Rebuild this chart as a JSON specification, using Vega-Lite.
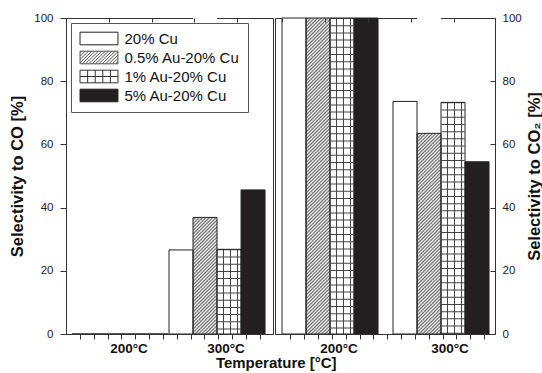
{
  "$schema": "https://vega.github.io/schema/vega-lite/v6.json",
  "background": "white",
  "padding": {"left": 9, "top": 6, "right": 0, "bottom": 0},
  "autosize": {"type": "pad"},
  "title": {"text": "Temperature [°C]", "orient": "bottom", "anchor": "middle", "fontSize": 15, "fontWeight": "bold", "color": "#111", "font": "Liberation Sans", "offset": 1},
  "datasets": {
    "d": [
      {"panel": "CO", "temp": "200°C", "catalyst": "20% Cu", "value": 0},
      {"panel": "CO", "temp": "200°C", "catalyst": "0.5% Au-20% Cu", "value": 0},
      {"panel": "CO", "temp": "200°C", "catalyst": "1% Au-20% Cu", "value": 0},
      {"panel": "CO", "temp": "200°C", "catalyst": "5% Au-20% Cu", "value": 0},
      {"panel": "CO", "temp": "300°C", "catalyst": "20% Cu", "value": 26.6},
      {"panel": "CO", "temp": "300°C", "catalyst": "0.5% Au-20% Cu", "value": 36.9},
      {"panel": "CO", "temp": "300°C", "catalyst": "1% Au-20% Cu", "value": 26.8},
      {"panel": "CO", "temp": "300°C", "catalyst": "5% Au-20% Cu", "value": 45.6},
      {"panel": "CO2", "temp": "200°C", "catalyst": "20% Cu", "value": 100},
      {"panel": "CO2", "temp": "200°C", "catalyst": "0.5% Au-20% Cu", "value": 100},
      {"panel": "CO2", "temp": "200°C", "catalyst": "1% Au-20% Cu", "value": 100},
      {"panel": "CO2", "temp": "200°C", "catalyst": "5% Au-20% Cu", "value": 100},
      {"panel": "CO2", "temp": "300°C", "catalyst": "20% Cu", "value": 73.6},
      {"panel": "CO2", "temp": "300°C", "catalyst": "0.5% Au-20% Cu", "value": 63.5},
      {"panel": "CO2", "temp": "300°C", "catalyst": "1% Au-20% Cu", "value": 73.3},
      {"panel": "CO2", "temp": "300°C", "catalyst": "5% Au-20% Cu", "value": 54.5}
    ]
  },
  "spacing": 0,
  "hconcat": [
    {
      "width": 207,
      "height": 316,
      "data": {"name": "d"},
      "transform": [{"filter": "datum.panel === 'CO'"}],
      "layer": [
        {
          "mark": {"type": "bar"},
          "encoding": {
            "x": {"field": "temp", "type": "nominal", "scale": {"domain": ["200°C", "300°C"], "paddingInner": 0.0103, "paddingOuter": 0.072, "align": 0.43},
              "axis": {"orient": "bottom", "title": null, "labelAngle": 0, "labelFontSize": 13.5, "labelFontWeight": "bold", "labelColor": "#111", "labelOffset": 9, "labelPadding": 7, "ticks": false, "tickSize": 0, "domain": true, "domainColor": "#333", "zindex": 1}},
            "xOffset": {"field": "catalyst", "type": "nominal", "scale": {"domain": ["20% Cu", "0.5% Au-20% Cu", "1% Au-20% Cu", "5% Au-20% Cu"], "paddingInner": 0, "paddingOuter": 0}},
            "y": {"field": "value", "type": "quantitative", "scale": {"domain": [0, 100], "nice": false},
              "axis": {"orient": "left", "values": [0, 10, 20, 30, 40, 50, 60, 70, 80, 90, 100], "labelExpr": "datum.value % 20 === 0 ? datum.label : ''", "tickSize": 6, "tickColor": "#333", "domainColor": "#333", "labelFontSize": 11.5, "labelColor": "#222", "labelPadding": 7, "title": "Selectivity to CO [%]", "titleFontSize": 16.5, "titleFontWeight": "bold", "titleColor": "#111", "titlePadding": 8, "grid": false, "zindex": 1}},
            "fill": {"condition": {"test": "datum.catalyst === '5% Au-20% Cu'", "value": "#231f20"}, "value": "white"}
          }
        },
        {
          "transform": [{"filter": "datum.catalyst === '0.5% Au-20% Cu' && datum.value > 0"}],
          "mark": {"type": "bar", "fill": {"gradient": "linear", "x1": 0, "y1": 0, "x2": 0.0813, "y2": 1.0698, "stops": [
            {"offset": 0, "color": "#fff"}, {"offset": 0.005, "color": "#666"}, {"offset": 0.01, "color": "#fff"}, {"offset": 0.015, "color": "#666"}, {"offset": 0.02, "color": "#fff"}, {"offset": 0.025, "color": "#666"}, {"offset": 0.03, "color": "#fff"}, {"offset": 0.035, "color": "#666"}, {"offset": 0.04, "color": "#fff"}, {"offset": 0.045, "color": "#666"},
            {"offset": 0.05, "color": "#fff"}, {"offset": 0.055, "color": "#666"}, {"offset": 0.06, "color": "#fff"}, {"offset": 0.065, "color": "#666"}, {"offset": 0.07, "color": "#fff"}, {"offset": 0.075, "color": "#666"}, {"offset": 0.08, "color": "#fff"}, {"offset": 0.085, "color": "#666"}, {"offset": 0.09, "color": "#fff"}, {"offset": 0.095, "color": "#666"},
            {"offset": 0.1, "color": "#fff"}, {"offset": 0.105, "color": "#666"}, {"offset": 0.11, "color": "#fff"}, {"offset": 0.115, "color": "#666"}, {"offset": 0.12, "color": "#fff"}, {"offset": 0.125, "color": "#666"}, {"offset": 0.13, "color": "#fff"}, {"offset": 0.135, "color": "#666"}, {"offset": 0.14, "color": "#fff"}, {"offset": 0.145, "color": "#666"},
            {"offset": 0.15, "color": "#fff"}, {"offset": 0.155, "color": "#666"}, {"offset": 0.16, "color": "#fff"}, {"offset": 0.165, "color": "#666"}, {"offset": 0.17, "color": "#fff"}, {"offset": 0.175, "color": "#666"}, {"offset": 0.18, "color": "#fff"}, {"offset": 0.185, "color": "#666"}, {"offset": 0.19, "color": "#fff"}, {"offset": 0.195, "color": "#666"},
            {"offset": 0.2, "color": "#fff"}, {"offset": 0.205, "color": "#666"}, {"offset": 0.21, "color": "#fff"}, {"offset": 0.215, "color": "#666"}, {"offset": 0.22, "color": "#fff"}, {"offset": 0.225, "color": "#666"}, {"offset": 0.23, "color": "#fff"}, {"offset": 0.235, "color": "#666"}, {"offset": 0.24, "color": "#fff"}, {"offset": 0.245, "color": "#666"},
            {"offset": 0.25, "color": "#fff"}, {"offset": 0.255, "color": "#666"}, {"offset": 0.26, "color": "#fff"}, {"offset": 0.265, "color": "#666"}, {"offset": 0.27, "color": "#fff"}, {"offset": 0.275, "color": "#666"}, {"offset": 0.28, "color": "#fff"}, {"offset": 0.285, "color": "#666"}, {"offset": 0.29, "color": "#fff"}, {"offset": 0.295, "color": "#666"},
            {"offset": 0.3, "color": "#fff"}, {"offset": 0.305, "color": "#666"}, {"offset": 0.31, "color": "#fff"}, {"offset": 0.315, "color": "#666"}, {"offset": 0.32, "color": "#fff"}, {"offset": 0.325, "color": "#666"}, {"offset": 0.33, "color": "#fff"}, {"offset": 0.335, "color": "#666"}, {"offset": 0.34, "color": "#fff"}, {"offset": 0.345, "color": "#666"},
            {"offset": 0.35, "color": "#fff"}, {"offset": 0.355, "color": "#666"}, {"offset": 0.36, "color": "#fff"}, {"offset": 0.365, "color": "#666"}, {"offset": 0.37, "color": "#fff"}, {"offset": 0.375, "color": "#666"}, {"offset": 0.38, "color": "#fff"}, {"offset": 0.385, "color": "#666"}, {"offset": 0.39, "color": "#fff"}, {"offset": 0.395, "color": "#666"},
            {"offset": 0.4, "color": "#fff"}, {"offset": 0.405, "color": "#666"}, {"offset": 0.41, "color": "#fff"}, {"offset": 0.415, "color": "#666"}, {"offset": 0.42, "color": "#fff"}, {"offset": 0.425, "color": "#666"}, {"offset": 0.43, "color": "#fff"}, {"offset": 0.435, "color": "#666"}, {"offset": 0.44, "color": "#fff"}, {"offset": 0.445, "color": "#666"},
            {"offset": 0.45, "color": "#fff"}, {"offset": 0.455, "color": "#666"}, {"offset": 0.46, "color": "#fff"}, {"offset": 0.465, "color": "#666"}, {"offset": 0.47, "color": "#fff"}, {"offset": 0.475, "color": "#666"}, {"offset": 0.48, "color": "#fff"}, {"offset": 0.485, "color": "#666"}, {"offset": 0.49, "color": "#fff"}, {"offset": 0.495, "color": "#666"},
            {"offset": 0.5, "color": "#fff"}, {"offset": 0.505, "color": "#666"}, {"offset": 0.51, "color": "#fff"}, {"offset": 0.515, "color": "#666"}, {"offset": 0.52, "color": "#fff"}, {"offset": 0.525, "color": "#666"}, {"offset": 0.53, "color": "#fff"}, {"offset": 0.535, "color": "#666"}, {"offset": 0.54, "color": "#fff"}, {"offset": 0.545, "color": "#666"},
            {"offset": 0.55, "color": "#fff"}, {"offset": 0.555, "color": "#666"}, {"offset": 0.56, "color": "#fff"}, {"offset": 0.565, "color": "#666"}, {"offset": 0.57, "color": "#fff"}, {"offset": 0.575, "color": "#666"}, {"offset": 0.58, "color": "#fff"}, {"offset": 0.585, "color": "#666"}, {"offset": 0.59, "color": "#fff"}, {"offset": 0.595, "color": "#666"},
            {"offset": 0.6, "color": "#fff"}, {"offset": 0.605, "color": "#666"}, {"offset": 0.61, "color": "#fff"}, {"offset": 0.615, "color": "#666"}, {"offset": 0.62, "color": "#fff"}, {"offset": 0.625, "color": "#666"}, {"offset": 0.63, "color": "#fff"}, {"offset": 0.635, "color": "#666"}, {"offset": 0.64, "color": "#fff"}, {"offset": 0.645, "color": "#666"},
            {"offset": 0.65, "color": "#fff"}, {"offset": 0.655, "color": "#666"}, {"offset": 0.66, "color": "#fff"}, {"offset": 0.665, "color": "#666"}, {"offset": 0.67, "color": "#fff"}, {"offset": 0.675, "color": "#666"}, {"offset": 0.68, "color": "#fff"}, {"offset": 0.685, "color": "#666"}, {"offset": 0.69, "color": "#fff"}, {"offset": 0.695, "color": "#666"},
            {"offset": 0.7, "color": "#fff"}, {"offset": 0.705, "color": "#666"}, {"offset": 0.71, "color": "#fff"}, {"offset": 0.715, "color": "#666"}, {"offset": 0.72, "color": "#fff"}, {"offset": 0.725, "color": "#666"}, {"offset": 0.73, "color": "#fff"}, {"offset": 0.735, "color": "#666"}, {"offset": 0.74, "color": "#fff"}, {"offset": 0.745, "color": "#666"},
            {"offset": 0.75, "color": "#fff"}, {"offset": 0.755, "color": "#666"}, {"offset": 0.76, "color": "#fff"}, {"offset": 0.765, "color": "#666"}, {"offset": 0.77, "color": "#fff"}, {"offset": 0.775, "color": "#666"}, {"offset": 0.78, "color": "#fff"}, {"offset": 0.785, "color": "#666"}, {"offset": 0.79, "color": "#fff"}, {"offset": 0.795, "color": "#666"},
            {"offset": 0.8, "color": "#fff"}, {"offset": 0.805, "color": "#666"}, {"offset": 0.81, "color": "#fff"}, {"offset": 0.815, "color": "#666"}, {"offset": 0.82, "color": "#fff"}, {"offset": 0.825, "color": "#666"}, {"offset": 0.83, "color": "#fff"}, {"offset": 0.835, "color": "#666"}, {"offset": 0.84, "color": "#fff"}, {"offset": 0.845, "color": "#666"},
            {"offset": 0.85, "color": "#fff"}, {"offset": 0.855, "color": "#666"}, {"offset": 0.86, "color": "#fff"}, {"offset": 0.865, "color": "#666"}, {"offset": 0.87, "color": "#fff"}, {"offset": 0.875, "color": "#666"}, {"offset": 0.88, "color": "#fff"}, {"offset": 0.885, "color": "#666"}, {"offset": 0.89, "color": "#fff"}, {"offset": 0.895, "color": "#666"},
            {"offset": 0.9, "color": "#fff"}, {"offset": 0.905, "color": "#666"}, {"offset": 0.91, "color": "#fff"}, {"offset": 0.915, "color": "#666"}, {"offset": 0.92, "color": "#fff"}, {"offset": 0.925, "color": "#666"}, {"offset": 0.93, "color": "#fff"}, {"offset": 0.935, "color": "#666"}, {"offset": 0.94, "color": "#fff"}, {"offset": 0.945, "color": "#666"},
            {"offset": 0.95, "color": "#fff"}, {"offset": 0.955, "color": "#666"}, {"offset": 0.96, "color": "#fff"}, {"offset": 0.965, "color": "#666"}, {"offset": 0.97, "color": "#fff"}, {"offset": 0.975, "color": "#666"}, {"offset": 0.98, "color": "#fff"}, {"offset": 0.985, "color": "#666"}, {"offset": 0.99, "color": "#fff"}, {"offset": 0.995, "color": "#666"},
            {"offset": 1, "color": "#fff"}
          ]}},
          "encoding": {
            "x": {"field": "temp", "type": "nominal", "scale": {"domain": ["200°C", "300°C"], "paddingInner": 0.0103, "paddingOuter": 0.072, "align": 0.43}, "axis": null},
            "xOffset": {"field": "catalyst", "type": "nominal", "scale": {"domain": ["20% Cu", "0.5% Au-20% Cu", "1% Au-20% Cu", "5% Au-20% Cu"], "paddingInner": 0, "paddingOuter": 0}},
            "y": {"datum": 100, "type": "quantitative"},
            "y2": {"datum": 0}
          }
        },
        {
          "transform": [{"filter": "datum.catalyst === '0.5% Au-20% Cu' && datum.value > 0"}],
          "mark": {"type": "bar", "fill": "white"},
          "encoding": {
            "x": {"field": "temp", "type": "nominal", "scale": {"domain": ["200°C", "300°C"], "paddingInner": 0.0103, "paddingOuter": 0.072, "align": 0.43}, "axis": null},
            "xOffset": {"field": "catalyst", "type": "nominal", "scale": {"domain": ["20% Cu", "0.5% Au-20% Cu", "1% Au-20% Cu", "5% Au-20% Cu"], "paddingInner": 0, "paddingOuter": 0}},
            "y": {"field": "value", "type": "quantitative"},
            "y2": {"datum": 100}
          }
        },
        {
          "transform": [{"filter": "datum.catalyst === '1% Au-20% Cu' && datum.value > 0"}],
          "mark": {"type": "bar", "fill": {"gradient": "linear", "x1": 0, "y1": 0, "x2": 1, "y2": 0, "stops": [
            {"offset": 0, "color": "#fff"}, {"offset": 0.255, "color": "#fff"}, {"offset": 0.255, "color": "#444"}, {"offset": 0.295, "color": "#444"}, {"offset": 0.295, "color": "#fff"},
            {"offset": 0.545, "color": "#fff"}, {"offset": 0.545, "color": "#444"}, {"offset": 0.585, "color": "#444"}, {"offset": 0.585, "color": "#fff"},
            {"offset": 0.835, "color": "#fff"}, {"offset": 0.835, "color": "#444"}, {"offset": 0.875, "color": "#444"}, {"offset": 0.875, "color": "#fff"}, {"offset": 1, "color": "#fff"}
          ]}},
          "encoding": {
            "x": {"field": "temp", "type": "nominal", "scale": {"domain": ["200°C", "300°C"], "paddingInner": 0.0103, "paddingOuter": 0.072, "align": 0.43}, "axis": null},
            "xOffset": {"field": "catalyst", "type": "nominal", "scale": {"domain": ["20% Cu", "0.5% Au-20% Cu", "1% Au-20% Cu", "5% Au-20% Cu"], "paddingInner": 0, "paddingOuter": 0}},
            "y": {"field": "value", "type": "quantitative"}
          }
        },
        {
          "transform": [{"filter": "datum.catalyst === '1% Au-20% Cu' && datum.value > 0"}],
          "mark": {"type": "rule", "stroke": "#444", "strokeWidth": 23, "strokeDash": [1, 6.2]},
          "encoding": {
            "x": {"field": "temp", "type": "nominal", "scale": {"domain": ["200°C", "300°C"], "paddingInner": 0.0103, "paddingOuter": 0.072, "align": 0.43}, "axis": null},
            "xOffset": {"field": "catalyst", "type": "nominal", "scale": {"domain": ["20% Cu", "0.5% Au-20% Cu", "1% Au-20% Cu", "5% Au-20% Cu"], "paddingInner": 0, "paddingOuter": 0}},
            "y": {"field": "value", "type": "quantitative"},
            "y2": {"datum": 0}
          }
        },
        {
          "mark": {"type": "bar", "fill": "transparent", "stroke": "#222", "strokeWidth": 1},
          "encoding": {
            "x": {"field": "temp", "type": "nominal", "scale": {"domain": ["200°C", "300°C"], "paddingInner": 0.0103, "paddingOuter": 0.072, "align": 0.43}, "axis": null},
            "xOffset": {"field": "catalyst", "type": "nominal", "scale": {"domain": ["20% Cu", "0.5% Au-20% Cu", "1% Au-20% Cu", "5% Au-20% Cu"], "paddingInner": 0, "paddingOuter": 0}},
            "y": {"field": "value", "type": "quantitative"}
          }
        },
        {
          "mark": {"type": "point", "filled": true, "opacity": 0, "size": 169, "strokeWidth": 1},
          "encoding": {
            "x": {"field": "temp", "type": "nominal", "scale": {"domain": ["200°C", "300°C"], "paddingInner": 0.0103, "paddingOuter": 0.072, "align": 0.43}, "axis": null},
            "y": {"datum": 50, "type": "quantitative"},
            "fill": {"field": "catalyst", "type": "nominal",
              "scale": {"domain": ["20% Cu", "0.5% Au-20% Cu", "1% Au-20% Cu", "5% Au-20% Cu"], "range": ["white", "white", "white", "#231f20"]},
              "legend": {"orient": "top-left", "offset": 5, "title": null, "padding": 8, "strokeColor": "#555", "fillColor": "white", "labelFontSize": 15, "labelColor": "#111", "labelFont": "Liberation Sans", "labelOffset": 18, "symbolOffset": 12.5, "rowPadding": 2, "symbolSize": 169, "symbolStrokeWidth": 1, "symbolOpacity": 1, "zindex": 1}},
            "stroke": {"field": "catalyst", "type": "nominal",
              "scale": {"domain": ["20% Cu", "0.5% Au-20% Cu", "1% Au-20% Cu", "5% Au-20% Cu"], "range": ["#222", "#555", "#333", "#222"]},
              "legend": {"orient": "top-left", "offset": 5, "title": null, "padding": 8, "strokeColor": "#555", "fillColor": "white", "labelFontSize": 15, "labelColor": "#111", "labelFont": "Liberation Sans", "labelOffset": 18, "symbolOffset": 12.5, "rowPadding": 2, "symbolSize": 169, "symbolStrokeWidth": 1, "symbolOpacity": 1, "zindex": 1}},
            "shape": {"field": "catalyst", "type": "nominal",
              "scale": {"domain": ["20% Cu", "0.5% Au-20% Cu", "1% Au-20% Cu", "5% Au-20% Cu"], "range": [
                "M-2.92,-0.97H2.92V0.97H-2.92Z",
                "M-2.92,-0.97H2.92V0.97H-2.92Z M-2.92,-0.71L-2.66,-0.97 M-2.92,-0.2L-2.14,-0.97 M-2.92,0.31L-1.62,-0.97 M-2.92,0.83L-1.11,-0.97 M-2.6,0.97L-0.6,-0.97 M-2.08,0.97L-0.08,-0.97 M-1.57,0.97L0.43,-0.97 M-1.05,0.97L0.95,-0.97 M-0.54,0.97L1.46,-0.97 M-0.03,0.97L1.97,-0.97 M0.49,0.97L2.49,-0.97 M1,0.97L2.92,-0.89 M1.52,0.97L2.92,-0.38 M2.03,0.97L2.92,0.13 M2.55,0.97L2.92,0.63",
                "M-2.92,-0.97H2.92V0.97H-2.92Z M-1.75,-0.97V0.97 M-0.58,-0.97V0.97 M0.58,-0.97V0.97 M1.75,-0.97V0.97 M-2.92,0H2.92",
                "M-2.92,-0.97H2.92V0.97H-2.92Z"
              ]},
              "legend": {"orient": "top-left", "offset": 5, "title": null, "padding": 8, "strokeColor": "#555", "fillColor": "white", "labelFontSize": 15, "labelColor": "#111", "labelFont": "Liberation Sans", "labelOffset": 18, "symbolOffset": 12.5, "rowPadding": 2, "symbolSize": 169, "symbolStrokeWidth": 1, "symbolOpacity": 1, "zindex": 1}}
          }
        },
        {
          "mark": {"type": "rule", "opacity": 0},
          "encoding": {
            "x": {"datum": 0, "type": "quantitative", "scale": {"domain": [0, 207], "nice": false, "zero": false},
              "axis": {"orient": "top", "offset": -4, "values": [43, 86, 128, 171], "labels": false, "title": null, "grid": false, "domain": false, "ticks": true, "tickColor": "#333", "tickSize": 4, "zindex": 1}}
          }
        },
        {
          "mark": {"type": "rule", "opacity": 0},
          "encoding": {
            "x": {"datum": 0, "type": "quantitative", "scale": {"domain": [0, 207], "nice": false, "zero": false},
              "axis": {"orient": "bottom", "values": [14, 28, 42, 55, 69, 83, 97, 111, 125, 138, 152, 166, 180, 194], "labels": false, "title": null, "grid": false, "domain": false, "ticks": true, "tickColor": "#333", "tickSize": 5, "zindex": 1}}
          }
        }
      ],
      "resolve": {"scale": {"x": "independent"}, "axis": {"x": "independent"}}
    },
    {
      "width": 220,
      "height": 316,
      "data": {"name": "d"},
      "transform": [{"filter": "datum.panel === 'CO2'"}],
      "layer": [
        {
          "mark": {"type": "bar"},
          "encoding": {
            "x": {"field": "temp", "type": "nominal", "scale": {"domain": ["200°C", "300°C"], "paddingInner": 0.135, "paddingOuter": 0.0585, "align": 0.54},
              "axis": {"orient": "bottom", "title": null, "labelAngle": 0, "labelFontSize": 13.5, "labelFontWeight": "bold", "labelColor": "#111", "labelOffset": 9, "labelPadding": 7, "ticks": false, "tickSize": 0, "domain": true, "domainColor": "#333", "zindex": 1}},
            "xOffset": {"field": "catalyst", "type": "nominal", "scale": {"domain": ["20% Cu", "0.5% Au-20% Cu", "1% Au-20% Cu", "5% Au-20% Cu"], "paddingInner": 0, "paddingOuter": 0}},
            "y": {"field": "value", "type": "quantitative", "scale": {"domain": [0, 100], "nice": false},
              "axis": {"orient": "right", "offset": -5, "values": [0, 10, 20, 30, 40, 50, 60, 70, 80, 90, 100], "labelExpr": "datum.value % 20 === 0 ? datum.label : ''", "tickSize": 5, "tickColor": "#333", "domain": false, "labelFontSize": 11.5, "labelColor": "#222", "labelPadding": 7, "title": "Selectivity to CO₂ [%]", "titleAngle": 270, "titleFontSize": 16.5, "titleFontWeight": "bold", "titleColor": "#111", "titlePadding": 21, "grid": false, "zindex": 1}},
            "fill": {"condition": {"test": "datum.catalyst === '5% Au-20% Cu'", "value": "#231f20"}, "value": "white"}
          }
        },
        {
          "transform": [{"filter": "datum.catalyst === '0.5% Au-20% Cu' && datum.value > 0"}],
          "mark": {"type": "bar", "fill": {"gradient": "linear", "x1": 0, "y1": 0, "x2": 0.0813, "y2": 1.0698, "stops": [
            {"offset": 0, "color": "#fff"}, {"offset": 0.005, "color": "#666"}, {"offset": 0.01, "color": "#fff"}, {"offset": 0.015, "color": "#666"}, {"offset": 0.02, "color": "#fff"}, {"offset": 0.025, "color": "#666"}, {"offset": 0.03, "color": "#fff"}, {"offset": 0.035, "color": "#666"}, {"offset": 0.04, "color": "#fff"}, {"offset": 0.045, "color": "#666"},
            {"offset": 0.05, "color": "#fff"}, {"offset": 0.055, "color": "#666"}, {"offset": 0.06, "color": "#fff"}, {"offset": 0.065, "color": "#666"}, {"offset": 0.07, "color": "#fff"}, {"offset": 0.075, "color": "#666"}, {"offset": 0.08, "color": "#fff"}, {"offset": 0.085, "color": "#666"}, {"offset": 0.09, "color": "#fff"}, {"offset": 0.095, "color": "#666"},
            {"offset": 0.1, "color": "#fff"}, {"offset": 0.105, "color": "#666"}, {"offset": 0.11, "color": "#fff"}, {"offset": 0.115, "color": "#666"}, {"offset": 0.12, "color": "#fff"}, {"offset": 0.125, "color": "#666"}, {"offset": 0.13, "color": "#fff"}, {"offset": 0.135, "color": "#666"}, {"offset": 0.14, "color": "#fff"}, {"offset": 0.145, "color": "#666"},
            {"offset": 0.15, "color": "#fff"}, {"offset": 0.155, "color": "#666"}, {"offset": 0.16, "color": "#fff"}, {"offset": 0.165, "color": "#666"}, {"offset": 0.17, "color": "#fff"}, {"offset": 0.175, "color": "#666"}, {"offset": 0.18, "color": "#fff"}, {"offset": 0.185, "color": "#666"}, {"offset": 0.19, "color": "#fff"}, {"offset": 0.195, "color": "#666"},
            {"offset": 0.2, "color": "#fff"}, {"offset": 0.205, "color": "#666"}, {"offset": 0.21, "color": "#fff"}, {"offset": 0.215, "color": "#666"}, {"offset": 0.22, "color": "#fff"}, {"offset": 0.225, "color": "#666"}, {"offset": 0.23, "color": "#fff"}, {"offset": 0.235, "color": "#666"}, {"offset": 0.24, "color": "#fff"}, {"offset": 0.245, "color": "#666"},
            {"offset": 0.25, "color": "#fff"}, {"offset": 0.255, "color": "#666"}, {"offset": 0.26, "color": "#fff"}, {"offset": 0.265, "color": "#666"}, {"offset": 0.27, "color": "#fff"}, {"offset": 0.275, "color": "#666"}, {"offset": 0.28, "color": "#fff"}, {"offset": 0.285, "color": "#666"}, {"offset": 0.29, "color": "#fff"}, {"offset": 0.295, "color": "#666"},
            {"offset": 0.3, "color": "#fff"}, {"offset": 0.305, "color": "#666"}, {"offset": 0.31, "color": "#fff"}, {"offset": 0.315, "color": "#666"}, {"offset": 0.32, "color": "#fff"}, {"offset": 0.325, "color": "#666"}, {"offset": 0.33, "color": "#fff"}, {"offset": 0.335, "color": "#666"}, {"offset": 0.34, "color": "#fff"}, {"offset": 0.345, "color": "#666"},
            {"offset": 0.35, "color": "#fff"}, {"offset": 0.355, "color": "#666"}, {"offset": 0.36, "color": "#fff"}, {"offset": 0.365, "color": "#666"}, {"offset": 0.37, "color": "#fff"}, {"offset": 0.375, "color": "#666"}, {"offset": 0.38, "color": "#fff"}, {"offset": 0.385, "color": "#666"}, {"offset": 0.39, "color": "#fff"}, {"offset": 0.395, "color": "#666"},
            {"offset": 0.4, "color": "#fff"}, {"offset": 0.405, "color": "#666"}, {"offset": 0.41, "color": "#fff"}, {"offset": 0.415, "color": "#666"}, {"offset": 0.42, "color": "#fff"}, {"offset": 0.425, "color": "#666"}, {"offset": 0.43, "color": "#fff"}, {"offset": 0.435, "color": "#666"}, {"offset": 0.44, "color": "#fff"}, {"offset": 0.445, "color": "#666"},
            {"offset": 0.45, "color": "#fff"}, {"offset": 0.455, "color": "#666"}, {"offset": 0.46, "color": "#fff"}, {"offset": 0.465, "color": "#666"}, {"offset": 0.47, "color": "#fff"}, {"offset": 0.475, "color": "#666"}, {"offset": 0.48, "color": "#fff"}, {"offset": 0.485, "color": "#666"}, {"offset": 0.49, "color": "#fff"}, {"offset": 0.495, "color": "#666"},
            {"offset": 0.5, "color": "#fff"}, {"offset": 0.505, "color": "#666"}, {"offset": 0.51, "color": "#fff"}, {"offset": 0.515, "color": "#666"}, {"offset": 0.52, "color": "#fff"}, {"offset": 0.525, "color": "#666"}, {"offset": 0.53, "color": "#fff"}, {"offset": 0.535, "color": "#666"}, {"offset": 0.54, "color": "#fff"}, {"offset": 0.545, "color": "#666"},
            {"offset": 0.55, "color": "#fff"}, {"offset": 0.555, "color": "#666"}, {"offset": 0.56, "color": "#fff"}, {"offset": 0.565, "color": "#666"}, {"offset": 0.57, "color": "#fff"}, {"offset": 0.575, "color": "#666"}, {"offset": 0.58, "color": "#fff"}, {"offset": 0.585, "color": "#666"}, {"offset": 0.59, "color": "#fff"}, {"offset": 0.595, "color": "#666"},
            {"offset": 0.6, "color": "#fff"}, {"offset": 0.605, "color": "#666"}, {"offset": 0.61, "color": "#fff"}, {"offset": 0.615, "color": "#666"}, {"offset": 0.62, "color": "#fff"}, {"offset": 0.625, "color": "#666"}, {"offset": 0.63, "color": "#fff"}, {"offset": 0.635, "color": "#666"}, {"offset": 0.64, "color": "#fff"}, {"offset": 0.645, "color": "#666"},
            {"offset": 0.65, "color": "#fff"}, {"offset": 0.655, "color": "#666"}, {"offset": 0.66, "color": "#fff"}, {"offset": 0.665, "color": "#666"}, {"offset": 0.67, "color": "#fff"}, {"offset": 0.675, "color": "#666"}, {"offset": 0.68, "color": "#fff"}, {"offset": 0.685, "color": "#666"}, {"offset": 0.69, "color": "#fff"}, {"offset": 0.695, "color": "#666"},
            {"offset": 0.7, "color": "#fff"}, {"offset": 0.705, "color": "#666"}, {"offset": 0.71, "color": "#fff"}, {"offset": 0.715, "color": "#666"}, {"offset": 0.72, "color": "#fff"}, {"offset": 0.725, "color": "#666"}, {"offset": 0.73, "color": "#fff"}, {"offset": 0.735, "color": "#666"}, {"offset": 0.74, "color": "#fff"}, {"offset": 0.745, "color": "#666"},
            {"offset": 0.75, "color": "#fff"}, {"offset": 0.755, "color": "#666"}, {"offset": 0.76, "color": "#fff"}, {"offset": 0.765, "color": "#666"}, {"offset": 0.77, "color": "#fff"}, {"offset": 0.775, "color": "#666"}, {"offset": 0.78, "color": "#fff"}, {"offset": 0.785, "color": "#666"}, {"offset": 0.79, "color": "#fff"}, {"offset": 0.795, "color": "#666"},
            {"offset": 0.8, "color": "#fff"}, {"offset": 0.805, "color": "#666"}, {"offset": 0.81, "color": "#fff"}, {"offset": 0.815, "color": "#666"}, {"offset": 0.82, "color": "#fff"}, {"offset": 0.825, "color": "#666"}, {"offset": 0.83, "color": "#fff"}, {"offset": 0.835, "color": "#666"}, {"offset": 0.84, "color": "#fff"}, {"offset": 0.845, "color": "#666"},
            {"offset": 0.85, "color": "#fff"}, {"offset": 0.855, "color": "#666"}, {"offset": 0.86, "color": "#fff"}, {"offset": 0.865, "color": "#666"}, {"offset": 0.87, "color": "#fff"}, {"offset": 0.875, "color": "#666"}, {"offset": 0.88, "color": "#fff"}, {"offset": 0.885, "color": "#666"}, {"offset": 0.89, "color": "#fff"}, {"offset": 0.895, "color": "#666"},
            {"offset": 0.9, "color": "#fff"}, {"offset": 0.905, "color": "#666"}, {"offset": 0.91, "color": "#fff"}, {"offset": 0.915, "color": "#666"}, {"offset": 0.92, "color": "#fff"}, {"offset": 0.925, "color": "#666"}, {"offset": 0.93, "color": "#fff"}, {"offset": 0.935, "color": "#666"}, {"offset": 0.94, "color": "#fff"}, {"offset": 0.945, "color": "#666"},
            {"offset": 0.95, "color": "#fff"}, {"offset": 0.955, "color": "#666"}, {"offset": 0.96, "color": "#fff"}, {"offset": 0.965, "color": "#666"}, {"offset": 0.97, "color": "#fff"}, {"offset": 0.975, "color": "#666"}, {"offset": 0.98, "color": "#fff"}, {"offset": 0.985, "color": "#666"}, {"offset": 0.99, "color": "#fff"}, {"offset": 0.995, "color": "#666"},
            {"offset": 1, "color": "#fff"}
          ]}},
          "encoding": {
            "x": {"field": "temp", "type": "nominal", "scale": {"domain": ["200°C", "300°C"], "paddingInner": 0.135, "paddingOuter": 0.0585, "align": 0.54}, "axis": null},
            "xOffset": {"field": "catalyst", "type": "nominal", "scale": {"domain": ["20% Cu", "0.5% Au-20% Cu", "1% Au-20% Cu", "5% Au-20% Cu"], "paddingInner": 0, "paddingOuter": 0}},
            "y": {"datum": 100, "type": "quantitative"},
            "y2": {"datum": 0}
          }
        },
        {
          "transform": [{"filter": "datum.catalyst === '0.5% Au-20% Cu' && datum.value > 0"}],
          "mark": {"type": "bar", "fill": "white"},
          "encoding": {
            "x": {"field": "temp", "type": "nominal", "scale": {"domain": ["200°C", "300°C"], "paddingInner": 0.135, "paddingOuter": 0.0585, "align": 0.54}, "axis": null},
            "xOffset": {"field": "catalyst", "type": "nominal", "scale": {"domain": ["20% Cu", "0.5% Au-20% Cu", "1% Au-20% Cu", "5% Au-20% Cu"], "paddingInner": 0, "paddingOuter": 0}},
            "y": {"field": "value", "type": "quantitative"},
            "y2": {"datum": 100}
          }
        },
        {
          "transform": [{"filter": "datum.catalyst === '1% Au-20% Cu' && datum.value > 0"}],
          "mark": {"type": "bar", "fill": {"gradient": "linear", "x1": 0, "y1": 0, "x2": 1, "y2": 0, "stops": [
            {"offset": 0, "color": "#fff"}, {"offset": 0.255, "color": "#fff"}, {"offset": 0.255, "color": "#444"}, {"offset": 0.295, "color": "#444"}, {"offset": 0.295, "color": "#fff"},
            {"offset": 0.545, "color": "#fff"}, {"offset": 0.545, "color": "#444"}, {"offset": 0.585, "color": "#444"}, {"offset": 0.585, "color": "#fff"},
            {"offset": 0.835, "color": "#fff"}, {"offset": 0.835, "color": "#444"}, {"offset": 0.875, "color": "#444"}, {"offset": 0.875, "color": "#fff"}, {"offset": 1, "color": "#fff"}
          ]}},
          "encoding": {
            "x": {"field": "temp", "type": "nominal", "scale": {"domain": ["200°C", "300°C"], "paddingInner": 0.135, "paddingOuter": 0.0585, "align": 0.54}, "axis": null},
            "xOffset": {"field": "catalyst", "type": "nominal", "scale": {"domain": ["20% Cu", "0.5% Au-20% Cu", "1% Au-20% Cu", "5% Au-20% Cu"], "paddingInner": 0, "paddingOuter": 0}},
            "y": {"field": "value", "type": "quantitative"}
          }
        },
        {
          "transform": [{"filter": "datum.catalyst === '1% Au-20% Cu' && datum.value > 0"}],
          "mark": {"type": "rule", "stroke": "#444", "strokeWidth": 23, "strokeDash": [1, 6.2]},
          "encoding": {
            "x": {"field": "temp", "type": "nominal", "scale": {"domain": ["200°C", "300°C"], "paddingInner": 0.135, "paddingOuter": 0.0585, "align": 0.54}, "axis": null},
            "xOffset": {"field": "catalyst", "type": "nominal", "scale": {"domain": ["20% Cu", "0.5% Au-20% Cu", "1% Au-20% Cu", "5% Au-20% Cu"], "paddingInner": 0, "paddingOuter": 0}},
            "y": {"field": "value", "type": "quantitative"},
            "y2": {"datum": 0}
          }
        },
        {
          "mark": {"type": "bar", "fill": "transparent", "stroke": "#222", "strokeWidth": 1},
          "encoding": {
            "x": {"field": "temp", "type": "nominal", "scale": {"domain": ["200°C", "300°C"], "paddingInner": 0.135, "paddingOuter": 0.0585, "align": 0.54}, "axis": null},
            "xOffset": {"field": "catalyst", "type": "nominal", "scale": {"domain": ["20% Cu", "0.5% Au-20% Cu", "1% Au-20% Cu", "5% Au-20% Cu"], "paddingInner": 0, "paddingOuter": 0}},
            "y": {"field": "value", "type": "quantitative"}
          }
        },
        {
          "mark": {"type": "rule", "opacity": 0},
          "encoding": {
            "x": {"datum": 0, "type": "quantitative", "scale": {"domain": [0, 220], "nice": false, "zero": false},
              "axis": {"orient": "top", "offset": -4, "values": [7, 50, 93, 136, 179], "labels": false, "title": null, "grid": false, "domain": false, "ticks": true, "tickColor": "#333", "tickSize": 4, "zindex": 1}}
          }
        },
        {
          "mark": {"type": "rule", "opacity": 0},
          "encoding": {
            "x": {"datum": 0, "type": "quantitative", "scale": {"domain": [0, 220], "nice": false, "zero": false},
              "axis": {"orient": "bottom", "values": [15, 29, 43, 57, 71, 85, 98, 112, 126, 140, 154, 168, 181, 195, 209], "labels": false, "title": null, "grid": false, "domain": false, "ticks": true, "tickColor": "#333", "tickSize": 5, "zindex": 1}}
          }
        }
      ],
      "resolve": {"scale": {"x": "independent"}, "axis": {"x": "independent"}}
    }
  ],
  "resolve": {"scale": {"fill": "independent", "shape": "independent", "stroke": "independent"}, "legend": {"fill": "independent", "shape": "independent", "stroke": "independent"}},
  "config": {
    "font": "Liberation Sans",
    "view": {"stroke": "#333", "strokeWidth": 1},
    "axis": {"labelFont": "Liberation Sans", "titleFont": "Liberation Sans"}
  }
}
